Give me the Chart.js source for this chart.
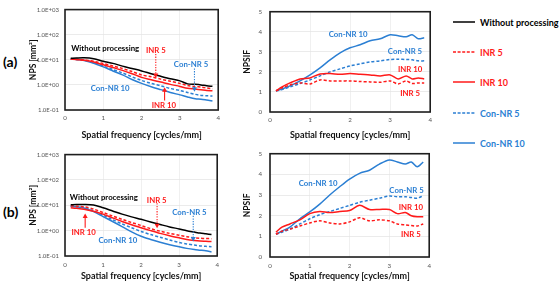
<!DOCTYPE html>
<html>
<head>
<meta charset="utf-8">
<script src="https://cdn.jsdelivr.net/npm/chart.js@4/dist/chart.umd.min.js"></script>
<style>
  html, body { margin: 0; padding: 0; background: #fff; }
  #wrap { position: relative; width: 560px; height: 281px; overflow: hidden; font-family: Lato, sans-serif; }
  .box { position: absolute; }
  .tag { position: absolute; font: bold 14px Lato, sans-serif; color: #000; }
  .leg { position: absolute; left: 453px; font: bold 9px Lato, sans-serif; display: flex; align-items: center; height: 10px; white-space: nowrap; }
  .leg svg { margin-right: 5px; }
</style>
</head>
<body>
<div id="wrap">
  <div class="tag" style="left:3px;top:53px">(a)</div>
  <div class="tag" style="left:3px;top:203px">(b)</div>
  <div class="box" style="left:24px;top:0;width:200px;height:140px"><canvas id="npsA"></canvas></div>
  <div class="box" style="left:236px;top:0;width:200px;height:140px"><canvas id="ifA"></canvas></div>
  <div class="box" style="left:24px;top:145px;width:200px;height:136px"><canvas id="npsB"></canvas></div>
  <div class="box" style="left:236px;top:142px;width:200px;height:139px"><canvas id="ifB"></canvas></div>
  <div id="legend"></div>
</div>
<script>
// spatial frequency [cycles/mm]
const freq = [0.15, 0.3, 0.5, 0.75, 1.0, 1.25, 1.5, 1.75, 2.0, 2.25, 2.5, 2.75, 3.0, 3.2, 3.4, 3.55, 3.7, 3.85];

const seriesNames = ['Without processing', 'INR 5', 'INR 10', 'Con-NR 5', 'Con-NR 10'];

// (a) NPS [mm^2]
const npsA_raw   = [11.5, 11.8, 12, 11, 8.7, 7.2, 5.6, 4.5, 3.6, 2.8, 2.2, 1.75, 1.45, 1.1, 1.05, 1.0, 0.92, 0.88];
const npsA_inr5  = [10.5, 10.3, 9.8, 8.7, 7.1, 5.7, 4.5, 3.4, 2.5, 2.1, 1.7, 1.4, 1.15, 0.95, 0.85, 0.82, 0.75, 0.7];
const npsA_inr10 = [10.5, 10.2, 9.5, 8.1, 6.3, 4.9, 3.8, 2.8, 2.0, 1.6, 1.3, 1.05, 0.87, 0.73, 0.68, 0.64, 0.6, 0.58];
const npsA_con5  = [10.8, 10.3, 9.5, 7.7, 5.6, 4.1, 3.0, 2.1, 1.5, 1.15, 0.92, 0.72, 0.6, 0.5, 0.42, 0.38, 0.37, 0.36];
const npsA_con10 = [10.8, 10.3, 9.3, 7.3, 5.2, 3.6, 2.5, 1.65, 1.15, 0.85, 0.65, 0.5, 0.4, 0.33, 0.28, 0.27, 0.25, 0.23];

// (a) NPSIF
const ifA_inr5  = [1.05, 1.2, 1.35, 1.45, 1.4, 1.6, 1.55, 1.55, 1.55, 1.52, 1.5, 1.48, 1.55, 1.4, 1.55, 1.42, 1.45, 1.45];
const ifA_inr10 = [1.05, 1.25, 1.45, 1.65, 1.7, 1.9, 1.92, 1.88, 1.92, 1.88, 1.85, 1.8, 1.85, 1.65, 1.8, 1.65, 1.7, 1.65];
const ifA_con5  = [1.05, 1.12, 1.25, 1.42, 1.6, 1.8, 2.0, 2.15, 2.3, 2.4, 2.5, 2.55, 2.62, 2.63, 2.62, 2.6, 2.55, 2.55];
const ifA_con10 = [1.05, 1.15, 1.3, 1.55, 1.85, 2.2, 2.6, 2.95, 3.2, 3.35, 3.55, 3.65, 3.85, 3.8, 3.75, 3.85, 3.65, 3.7];

// (b) NPS [mm^2]
const npsB_raw   = [10.5, 10.7, 10.8, 10.3, 8.0, 6.0, 4.5, 3.5, 2.8, 2.2, 1.75, 1.4, 1.17, 1.0, 0.88, 0.8, 0.75, 0.7];
const npsB_inr5  = [9.5, 9.2, 8.7, 7.1, 5.2, 3.8, 2.8, 2.1, 1.6, 1.2, 0.95, 0.78, 0.66, 0.58, 0.52, 0.5, 0.49, 0.48];
const npsB_inr10 = [8.0, 7.6, 7.0, 5.8, 4.5, 3.2, 2.3, 1.7, 1.3, 1.0, 0.78, 0.63, 0.52, 0.45, 0.41, 0.39, 0.38, 0.37];
const npsB_con5  = [9.2, 8.8, 8.0, 6.1, 4.1, 2.7, 1.85, 1.3, 0.93, 0.7, 0.55, 0.43, 0.34, 0.3, 0.27, 0.25, 0.24, 0.23];
const npsB_con10 = [9.2, 8.7, 7.8, 5.6, 3.6, 2.3, 1.45, 0.9, 0.6, 0.45, 0.35, 0.28, 0.23, 0.2, 0.18, 0.17, 0.16, 0.145];

// (b) NPSIF
const ifB_inr5  = [1.1, 1.25, 1.35, 1.5, 1.65, 1.75, 1.65, 1.6, 1.7, 1.9, 1.75, 1.8, 1.75, 1.6, 1.55, 1.52, 1.5, 1.6];
const ifB_inr10 = [1.2, 1.45, 1.6, 1.8, 2.1, 2.2, 2.15, 2.2, 2.25, 2.5, 2.3, 2.3, 2.3, 2.1, 2.15, 2.0, 1.95, 1.95];
const ifB_con5  = [1.1, 1.2, 1.35, 1.6, 1.85, 2.05, 2.2, 2.35, 2.5, 2.65, 2.75, 2.85, 2.95, 2.92, 2.92, 2.88, 2.85, 2.97];
const ifB_con10 = [1.1, 1.25, 1.45, 1.85, 2.18, 2.56, 3.0, 3.4, 3.77, 4.05, 4.2, 4.5, 4.7, 4.6, 4.5, 4.6, 4.37, 4.6];

const npsTicks = [0.1, 1, 10, 100, 1000];
const ifTicks = [0, 1, 2, 3, 4, 5];
const freqTicks = [0, 1, 2, 3, 4];

const BLACK = '#000000', RED = '#ff1a1a', BLUE = '#2b7fd3';
const styles = [
  { color: BLACK, dash: [] },
  { color: RED, dash: [3, 2] },
  { color: RED, dash: [] },
  { color: BLUE, dash: [3, 2] },
  { color: BLUE, dash: [] }
];
const FONT = 'Lato, sans-serif';

function sci(v) {
  const e = Math.round(Math.log10(v));
  const m = v / Math.pow(10, e);
  return m.toFixed(1) + 'E' + (e < 0 ? '-' : '+') + String(Math.abs(e)).padStart(2, '0');
}

function makeDs(lists, idx) {
  return lists.map((vals, i) => {
    const st = styles[idx[i]];
    return {
      label: seriesNames[idx[i]],
      data: freq.map((f, k) => ({ x: f, y: vals[k] })),
      borderColor: st.color,
      borderDash: st.dash,
      borderWidth: 1.5,
      pointRadius: 0,
      tension: 0.3,
      fill: false
    };
  });
}

const decor = {
  id: 'decor',
  afterDatasetsDraw(chart, args, opts) {
    const { ctx, chartArea: a, scales: { x, y } } = chart;
    ctx.save();
    (opts.arrows || []).forEach(ar => {
      const px = x.getPixelForValue(ar.x);
      const p1 = y.getPixelForValue(ar.from);
      const p2 = y.getPixelForValue(ar.to);
      const dir = p2 > p1 ? 1 : -1;
      ctx.strokeStyle = ar.color;
      ctx.fillStyle = ar.color;
      ctx.lineWidth = 1.1;
      ctx.setLineDash(ar.dotted ? [1.3, 1.3] : []);
      ctx.beginPath();
      ctx.moveTo(px, p1);
      ctx.lineTo(px, p2 - dir * 3);
      ctx.stroke();
      ctx.setLineDash([]);
      ctx.beginPath();
      ctx.moveTo(px, p2);
      ctx.lineTo(px - 2.5, p2 - dir * 4.5);
      ctx.lineTo(px + 2.5, p2 - dir * 4.5);
      ctx.closePath();
      ctx.fill();
    });
    ctx.font = 'bold 7.8px ' + FONT;
    ctx.textAlign = 'center';
    ctx.textBaseline = 'middle';
    (opts.notes || []).forEach(n => {
      ctx.fillStyle = n.color;
      ctx.fillText(n.text, x.getPixelForValue(n.x), y.getPixelForValue(n.y));
    });
    ctx.strokeStyle = '#1e1e1e';
    ctx.lineWidth = 1.6;
    ctx.strokeRect(a.left, a.top, a.width, a.height);
    ctx.restore();
  }
};

function xScale(padTick, padTitle, h) {
  return {
    type: 'linear', min: 0, max: 4,
    afterBuildTicks: s => { s.ticks = freqTicks.map(v => ({ value: v })); },
    afterFit: s => { s.height = h; },
    grid: { color: '#ececec', drawTicks: false, lineWidth: 0.8 },
    border: { display: false },
    ticks: { padding: padTick, color: '#555', font: { size: 6.2, family: FONT } },
    title: {
      display: true, text: 'Spatial frequency [cycles/mm]', color: '#111',
      font: { size: 9, weight: 'bold', family: FONT }, padding: { top: padTitle, bottom: 0 }
    }
  };
}

function npsChart(id, lists, xPadTick, xPadTitle, xH, topPad, notes, arrows) {
  return new Chart(document.getElementById(id), {
    type: 'line',
    data: { datasets: makeDs(lists, [0, 1, 2, 3, 4]) },
    plugins: [decor],
    options: {
      responsive: true, maintainAspectRatio: false, animation: false,
      layout: { padding: { top: topPad, right: 4, left: 0, bottom: 0 } },
      plugins: { legend: { display: false }, tooltip: { enabled: false }, decor: { notes, arrows } },
      scales: {
        x: xScale(xPadTick, xPadTitle, xH),
        y: {
          type: 'logarithmic', min: 0.1, max: 1000,
          afterBuildTicks: s => { s.ticks = npsTicks.map(v => ({ value: v })); },
          afterFit: s => { s.width = 41; },
          grid: { color: '#e6e6e6', drawTicks: false, lineWidth: 0.8 },
          border: { display: false },
          ticks: { padding: 6, color: '#555', font: { size: 6, family: FONT }, callback: v => sci(v) },
          title: {
            display: true, text: 'NPS [mm²]', color: '#111',
            font: { size: 8.5, weight: 'bold', family: FONT }, padding: { top: 4, bottom: 0 }
          }
        }
      }
    }
  });
}

function ifChart(id, lists, xPadTick, xPadTitle, xH, topPad, notes) {
  return new Chart(document.getElementById(id), {
    type: 'line',
    data: { datasets: makeDs(lists, [1, 2, 3, 4]) },
    plugins: [decor],
    options: {
      responsive: true, maintainAspectRatio: false, animation: false,
      layout: { padding: { top: topPad, right: 3, left: 0, bottom: 0 } },
      plugins: { legend: { display: false }, tooltip: { enabled: false }, decor: { notes, arrows: [] } },
      scales: {
        x: xScale(xPadTick, xPadTitle, xH),
        y: {
          type: 'linear', min: 0, max: 5,
          afterBuildTicks: s => { s.ticks = ifTicks.map(v => ({ value: v })); },
          afterFit: s => { s.width = 34; },
          grid: { color: '#e6e6e6', drawTicks: false, lineWidth: 0.8 },
          border: { display: false },
          ticks: { padding: 8, color: '#555', font: { size: 6.2, family: FONT } },
          title: {
            display: true, text: 'NPSIF', color: '#111',
            font: { size: 8.5, weight: 'bold', family: FONT }, padding: { top: 6, bottom: 0 }
          }
        }
      }
    }
  });
}

npsChart('npsA', [npsA_raw, npsA_inr5, npsA_inr10, npsA_con5, npsA_con10], 4, 7.5, 30, 3,
  [
    { text: 'Without processing', x: 1.05, y: 27, color: BLACK },
    { text: 'INR 5', x: 2.37, y: 23.5, color: RED },
    { text: 'Con-NR 5', x: 3.29, y: 6.4, color: BLUE },
    { text: 'INR 10', x: 2.58, y: 0.155, color: RED },
    { text: 'Con-NR 10', x: 1.18, y: 0.7, color: BLUE }
  ],
  [
    { x: 2.37, from: 17, to: 1.9, color: RED, dotted: true },
    { x: 3.38, from: 4.5, to: 0.53, color: BLUE, dotted: true },
    { x: 2.6, from: 0.24, to: 0.8, color: RED, dotted: false }
  ]);

ifChart('ifA', [ifA_inr5, ifA_inr10, ifA_con5, ifA_con10], 4, 6.5, 28, 4,
  [
    { text: 'Con-NR 10', x: 1.95, y: 3.88, color: BLUE },
    { text: 'Con-NR 5', x: 3.37, y: 3.01, color: BLUE },
    { text: 'INR 10', x: 3.5, y: 2.13, color: RED },
    { text: 'INR 5', x: 3.5, y: 0.93, color: RED }
  ]);

npsChart('npsB', [npsB_raw, npsB_inr5, npsB_inr10, npsB_con5, npsB_con10], 5, 0, 25, 3,
  [
    { text: 'Without processing', x: 1.02, y: 20, color: BLACK },
    { text: 'INR 5', x: 2.41, y: 15.8, color: RED },
    { text: 'Con-NR 5', x: 3.27, y: 5.4, color: BLUE },
    { text: 'INR 10', x: 0.49, y: 0.87, color: RED },
    { text: 'Con-NR 10', x: 1.39, y: 0.42, color: BLUE }
  ],
  [
    { x: 2.42, from: 12, to: 1.23, color: RED, dotted: true },
    { x: 3.37, from: 3.85, to: 0.37, color: BLUE, dotted: true },
    { x: 0.53, from: 1.3, to: 4.8, color: RED, dotted: false }
  ]);

ifChart('ifB', [ifB_inr5, ifB_inr10, ifB_con5, ifB_con10], 5, 0.6, 24, 4,
  [
    { text: 'Con-NR 10', x: 1.21, y: 3.58, color: BLUE },
    { text: 'Con-NR 5', x: 3.43, y: 3.24, color: BLUE },
    { text: 'INR 10', x: 3.54, y: 2.41, color: RED },
    { text: 'INR 5', x: 3.54, y: 1.1, color: RED }
  ]);

// legend at the right
const legTop = [17, 47, 77, 108, 138];
const legend = document.getElementById('legend');
seriesNames.forEach((name, i) => {
  const st = styles[i];
  const row = document.createElement('div');
  row.className = 'leg';
  row.style.top = legTop[i] + 'px';
  row.style.color = st.color;
  row.innerHTML = '<svg width="22" height="4"><line x1="0" y1="2" x2="22" y2="2" stroke="' + st.color +
    '" stroke-width="1.5" stroke-dasharray="' + (st.dash.length ? '3 1.6' : 'none') + '"/></svg>' + name;
  legend.appendChild(row);
});
</script>
</body>
</html>
